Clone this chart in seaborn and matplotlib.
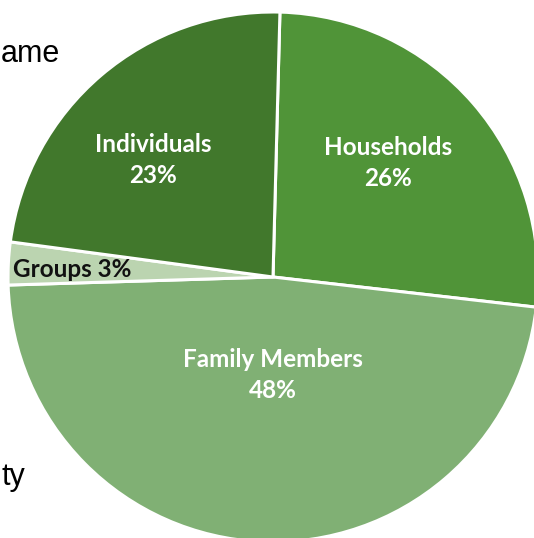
import matplotlib
matplotlib.use("Agg")
import matplotlib.pyplot as plt
import seaborn as sns

# slices, clockwise from the top
segments = ['Households', 'Family Members', 'Groups', 'Individuals']
shares = [26.4, 47.7, 2.6, 23.3]
colours = ['#509438', '#80B074', '#BBD4B0', '#41782C']
label_colours = ['white', 'white', '#111111', 'white']
# label anchor, as a fraction of the radius from the centre
label_pos = [(0.434, 0.430), (0.0, -0.370), (-0.758, 0.03), (-0.453, 0.440)]

sns.set_theme(style='white')

W, H = 534, 538
fig = plt.figure(figsize=(W / 100, H / 100), dpi=100)
ax = fig.add_axes([0, 0, 1, 1])

cx, cy, r = 273, H - 277, 265
wedges, _ = ax.pie(shares, colors=colours, startangle=88.5, counterclock=False,
                   radius=r, center=(cx, cy),
                   wedgeprops=dict(edgecolor='white', linewidth=2.2))

for name, val, col, (fx, fy) in zip(segments, shares, label_colours, label_pos):
    if name == 'Groups':
        txt = f'{name} {round(val)}%'
    else:
        txt = f'{name}\n{round(val)}%'
    ax.text(cx + r * fx, cy + r * fy, txt, ha='center', va='center', color=col,
            fontsize=17.5, fontweight='bold', family='Lato', linespacing=1.42)

# clipped text from the neighbouring panel
ax.text(60, H - 62, 'ame', ha='right', va='baseline', fontsize=22,
        family='Liberation Sans', color='black')
ax.text(25, H - 485, 'ty', ha='right', va='baseline', fontsize=22,
        family='Liberation Sans', color='black')

ax.set_xlim(0, W)
ax.set_ylim(0, H)
ax.axis('off')

fig.savefig('out.png', dpi=100)
